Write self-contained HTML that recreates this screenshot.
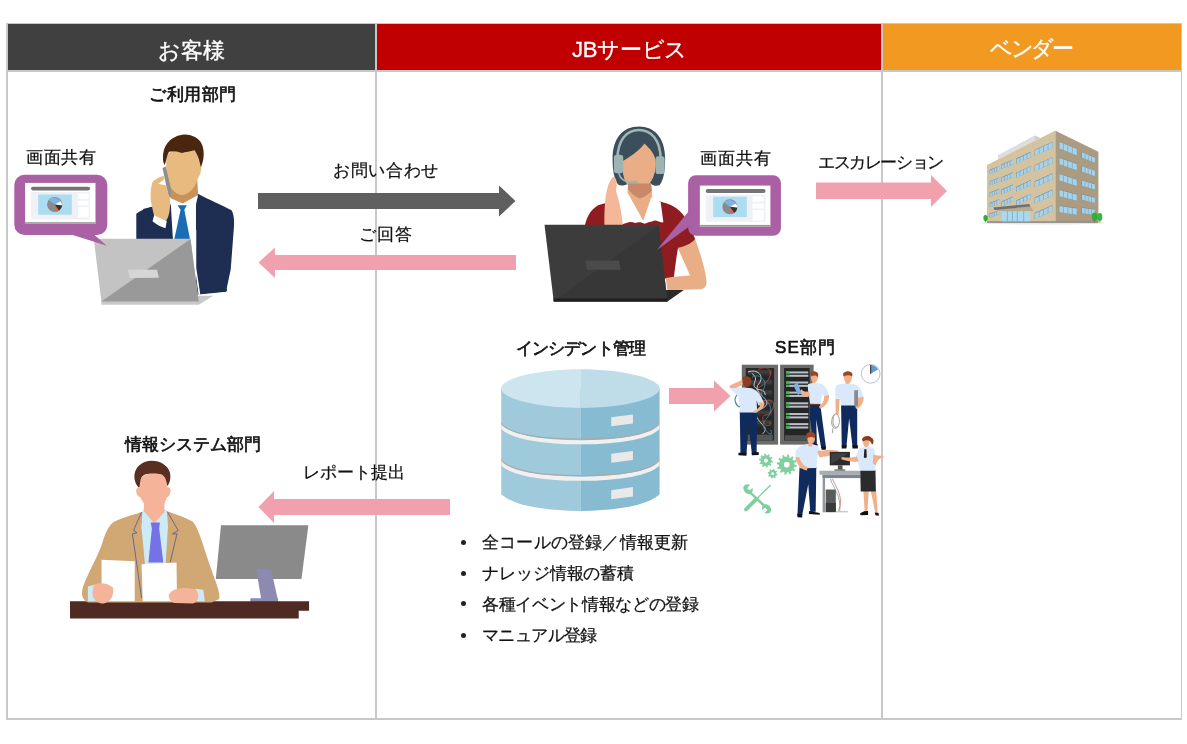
<!DOCTYPE html>
<html lang="ja">
<head>
<meta charset="utf-8">
<style>
html,body{margin:0;padding:0;background:#fff;}
body{width:1187px;height:744px;position:relative;overflow:hidden;font-family:"Liberation Sans",sans-serif;color:#111;-webkit-font-smoothing:antialiased;}
.a{position:absolute;white-space:nowrap;line-height:1;will-change:transform;}
.hd{will-change:transform;position:absolute;top:24px;height:46px;color:#fff;font-size:22px;line-height:54px;overflow:hidden;text-align:center;-webkit-text-stroke:0.35px #fff;}
.ln{position:absolute;background:#c8c8c8;}
.t17{font-size:17px;-webkit-text-stroke:0.25px #111;}
.b{font-weight:normal;-webkit-text-stroke:0.65px #111 !important;}
svg{position:absolute;left:0;top:0;}
</style>
</head>
<body>
<!-- headers -->
<div class="hd" style="left:7px;width:369px;background:#404040;">お客様</div>
<div class="hd" style="left:377px;width:505px;background:#c00000;letter-spacing:-0.3px;line-height:52px;">JBサービス</div>
<div class="hd" style="left:883px;width:298px;background:#f29922;letter-spacing:-2.5px;text-indent:-3px;line-height:50px;">ベンダー</div>
<!-- grid lines -->
<div class="ln" style="left:6px;top:23px;width:1176px;height:1px;"></div>
<div class="ln" style="left:6px;top:70px;width:1176px;height:2px;"></div>
<div class="ln" style="left:6px;top:718px;width:1176px;height:2px;"></div>
<div class="ln" style="left:6px;top:23px;width:2px;height:697px;"></div>
<div class="ln" style="left:1181px;top:23px;width:1px;height:697px;"></div>
<div class="ln" style="left:375px;top:23px;width:2px;height:697px;"></div>
<div class="ln" style="left:881px;top:23px;width:2px;height:697px;"></div>

<!-- texts -->
<div class="a t17 b" style="left:149px;top:86px;letter-spacing:0.6px;">ご利用部門</div>
<div class="a t17" style="left:26px;top:149px;letter-spacing:0.6px;">画面共有</div>
<div class="a t17" style="left:333px;top:162px;letter-spacing:0.7px;">お問い合わせ</div>
<div class="a t17" style="left:359px;top:226px;letter-spacing:1.2px;">ご回答</div>
<div class="a t17" style="left:700px;top:150px;letter-spacing:1.0px;">画面共有</div>
<div class="a t17" style="left:818px;top:154px;letter-spacing:-1.4px;">エスカレーション</div>
<div class="a t17 b" style="left:516px;top:340px;letter-spacing:-0.9px;">インシデント管理</div>
<div class="a t17 b" style="left:775px;top:339px;letter-spacing:1.2px;">SE部門</div>
<div class="a t17 b" style="left:125px;top:436px;">情報システム部門</div>
<div class="a t17" style="left:303px;top:464px;">レポート提出</div>
<div class="a" style="left:461px;top:540px;width:5px;height:5px;border-radius:2.5px;background:#222;"></div>
<div class="a" style="left:461px;top:571px;width:5px;height:5px;border-radius:2.5px;background:#222;"></div>
<div class="a" style="left:461px;top:601px;width:5px;height:5px;border-radius:2.5px;background:#222;"></div>
<div class="a" style="left:461px;top:633px;width:5px;height:5px;border-radius:2.5px;background:#222;"></div>
<div class="a t17" style="left:482px;top:534px;letter-spacing:0.2px;">全コールの登録／情報更新</div>
<div class="a t17" style="left:482px;top:565px;letter-spacing:-0.1px;">ナレッジ情報の蓄積</div>
<div class="a t17" style="left:482px;top:596px;letter-spacing:-0.35px;">各種イベント情報などの登録</div>
<div class="a t17" style="left:482px;top:627px;letter-spacing:-0.6px;">マニュアル登録</div>

<svg width="1187" height="744" viewBox="0 0 1187 744">
<!-- arrows -->
<polygon fill="#5f5f5f" points="258,193 499,193 499,185.5 515.5,201 499,216.5 499,209 258,209"/>
<polygon fill="#f1a0ad" points="516,255 275,255 275,247.5 258.5,262.5 275,278 275,270 516,270"/>
<polygon fill="#f1a0ad" points="816,182.5 931,182.5 931,175 947,191 931,207 931,199 816,199"/>
<polygon fill="#f1a0ad" points="669,388 714,388 714,380.5 730.5,396 714,411.5 714,404 669,404"/>
<polygon fill="#f1a0ad" points="450,499 274,499 274,491 258.5,507 274,523 274,515 450,515"/>
<!-- ILLUS -->
<!-- customer man -->
<g transform="translate(130,128) scale(0.157356)">
  <path fill="#1e2e52" d="M40,545 C70,515 160,500 255,462 L300,1060 L419,1060 L419,500 C420,460 425,435 432,418 C500,455 590,495 645,522 C668,560 662,620 655,700 L640,900 L610,1040 L420,1060 L40,1060 Z"/>
</g>
<g transform="translate(145,160) scale(0.094073)" id="cm2">
  <path fill="#ffffff" d="M255,430 L400,462 L565,372 L560,900 L295,900 Z"/>
  <path fill="#c9925b" d="M262,250 L555,205 L565,372 L400,462 L268,405 Z"/>
  <g transform="translate(106.3,-318.9)">
    <path fill="#e8ba7f" d="M130,270 C140,235 180,225 230,228 C260,232 275,240 290,245 C340,232 390,220 420,215 C445,250 460,290 470,340 L492,380 C498,420 482,480 452,520 C430,600 390,660 300,692 C230,692 170,630 140,560 C120,500 115,420 120,340 Z"/>
    <path fill="#4a2510" d="M85,300 C80,180 150,70 290,50 C380,40 440,80 470,110 C510,150 525,230 515,300 C505,350 495,380 488,395 L462,300 C452,270 442,250 420,215 C380,225 330,235 290,245 C240,225 190,225 150,230 C135,250 125,290 117,330 L102,372 C90,350 85,330 85,300 Z"/>
    <path fill="#8e8e8e" d="M80,404 L114,389 L170,625 L168,711 L69,704 L134,662 Z"/>
  </g>
  <path fill="#1e2e52" d="M-20,520 L95,492 L250,430 L275,480 L300,900 L-20,900 Z"/>
  <path fill="#1e2e52" d="M565,372 C600,400 650,425 700,445 L700,900 L542,900 L542,470 Z"/>
  <path fill="#1a6db3" d="M345,482 L445,482 L418,530 L480,850 L310,850 L378,530 Z"/>
  <path fill="#e8ba7f" d="M78,238 C100,208 150,180 192,170 C215,172 212,200 192,215 L140,255 C175,260 205,265 228,270 L246,350 C252,370 256,380 262,392 C272,440 268,500 258,560 C245,620 228,650 205,645 L100,600 C80,520 58,440 60,380 C60,320 68,270 78,238 Z"/>
  <path fill="#ffffff" d="M98,585 C135,610 190,635 232,645 L218,725 C170,710 120,685 80,650 Z"/>
</g>

<!-- jacket lower right -->
<g transform="translate(90,230) scale(0.126374)">
  <path fill="#1e2e52" d="M839,0 L1132,0 L1120,80 L1050,290 L1085,485 L870,505 L839,300 Z"/>
  <path fill="#ffffff" d="M790,0 L841,0 L841,300 L872,505 L860,520 L800,70 Z"/>
  <!-- laptop -->
  <path fill="#c8c8c8" d="M90,560 L860,520 L975,520 L860,592 L90,592 Z"/>
  <path fill="#c3c3c3" d="M30,70 L795,70 L860,565 L90,565 Z"/>
  <path fill="#999999" d="M795,72 L860,565 L90,565 Z"/>
  <path fill="#d6d6d6" d="M300,315 L530,315 L545,378 L315,380 Z"/>
</g>
<!-- customer bubble -->
<g transform="translate(10,170) scale(0.107527)">
  <rect x="40" y="45" width="865" height="560" rx="95" fill="#aa60a5"/>
  <path fill="#aa60a5" d="M540,590 L770,590 L900,705 Z"/>
  <rect x="140" y="120" width="655" height="380" fill="#ffffff"/>
  <rect x="140" y="485" width="655" height="15" fill="#9a9a9a"/>
  <rect x="195" y="205" width="550" height="255" rx="15" fill="#eef1f6"/>
  <rect x="195" y="155" width="550" height="35" rx="17" fill="#747474"/>
  <rect x="262" y="228" width="313" height="188" fill="#acdcef"/>
  <circle cx="415" cy="320" r="70" fill="#8a8a8a"/>
  <path fill="#7db4e6" d="M415,320 L360,278 A70,70 0 0 1 470,290 Z"/>
  <path fill="#ffffff" d="M415,320 L470,290 A70,70 0 0 1 485,330 Z"/>
  <path fill="#333333" d="M415,320 L485,330 A70,70 0 0 1 455,378 Z"/>
  <path fill="#e8604a" d="M415,320 L455,378 A70,70 0 0 1 430,388 Z"/>
  <rect x="632" y="218" width="100" height="52" fill="#ffffff"/>
  <rect x="632" y="285" width="100" height="45" fill="#ffffff"/>
  <rect x="632" y="345" width="100" height="95" fill="#ffffff"/>
</g>

<!-- woman operator -->
<g transform="translate(580,120) scale(0.16129)">
  <path fill="#3a4e5b" d="M365,40 C462,40 528,110 528,240 C528,320 516,380 492,405 C470,412 450,405 440,395 L300,395 C280,405 255,412 238,402 C212,372 202,312 202,240 C202,110 268,40 365,40 Z"/>
  <path fill="#e9ae85" d="M262,255 C300,235 362,195 400,145 C432,178 462,205 470,255 C472,305 462,345 440,382 C420,412 395,432 365,434 C330,432 300,412 285,388 C268,352 258,302 262,255 Z"/>
  <path fill="none" stroke="#a2b6b6" stroke-width="16" d="M232,245 C232,120 292,62 365,62 C440,62 500,120 500,245"/>
  <rect x="210" y="215" width="58" height="115" rx="18" fill="#9fb3b2"/>
  <rect x="468" y="225" width="57" height="110" rx="18" fill="#9fb3b2"/>
  <path fill="none" stroke="#9fb3b2" stroke-width="10" d="M240,320 C245,370 280,386 330,386"/>
  <ellipse cx="338" cy="388" rx="22" ry="13" fill="#9fb3b2"/>
</g>
<g transform="translate(540,190) scale(0.16129)">
  <!-- red shirt -->
  <path fill="#8f1c21" d="M270,260 C285,170 310,125 360,95 C400,80 450,72 490,68 L745,72 C800,85 860,110 900,170 C930,220 950,270 962,305 C940,335 900,355 855,362 C845,420 835,500 830,545 L600,560 L270,560 Z"/>
  <!-- arm -->
  <path fill="#e9ae85" d="M855,358 C900,350 940,330 962,305 C990,380 1020,470 1032,560 C1034,590 1025,612 1000,615 L790,622 L780,545 C830,535 880,535 930,530 C910,480 880,420 855,358 Z"/>
  <!-- neck -->
  <path fill="#e9ae85" d="M546,-40 L690,-40 L700,90 L640,200 L538,100 Z"/>
  <path fill="#c98868" d="M546,-40 L688,-40 L693,6 C658,36 633,51 613,51 C588,41 563,21 546,-4 Z"/>
  <!-- collar -->
  <path fill="#ffffff" d="M470,70 C490,50 520,30 545,20 L640,190 L690,45 C710,55 730,65 748,75 L765,200 C745,205 725,185 705,190 C690,200 670,195 650,210 C630,200 610,195 590,205 C560,190 535,205 505,215 Z"/>
  <!-- raised hand -->
  <path fill="#f4b898" d="M458,-80 C468,-80 476,-60 476,-34 C476,-15 470,0 472,10 C485,50 505,120 515,230 L400,230 C398,190 400,120 403,86 C404,50 412,10 420,-20 C430,-50 445,-80 458,-80 Z"/>
  <!-- laptop -->
  <path fill="#2a2a2a" d="M85,670 L790,620 L892,620 L790,692 L85,692 Z"/>
  <path fill="#3c3c3c" d="M28,215 L735,215 L790,690 L85,690 Z"/>
  <path fill="#373737" d="M735,218 L790,690 L85,690 Z"/>
  <path fill="#1e1e1e" d="M85,672 L790,672 L790,692 L85,692 Z"/>
  <path fill="#4b4b4b" d="M283,437 L490,437 L500,495 L290,495 Z"/>
</g>
<!-- operator bubble -->
<g transform="translate(650,165) scale(0.121007)">
  <rect x="315" y="85" width="767" height="500" rx="65" fill="#aa60a5"/>
  <path fill="#aa60a5" d="M330,370 L330,505 L55,705 Z"/>
  <rect x="412" y="170" width="583" height="340" fill="#ffffff"/>
  <rect x="412" y="495" width="583" height="15" fill="#9a9a9a"/>
  <rect x="460" y="245" width="495" height="225" rx="14" fill="#eef1f6"/>
  <rect x="460" y="198" width="495" height="34" rx="17" fill="#747474"/>
  <rect x="522" y="262" width="278" height="168" fill="#acdcef"/>
  <circle cx="660" cy="345" r="62" fill="#8a8a8a"/>
  <path fill="#7db4e6" d="M660,345 L612,308 A62,62 0 0 1 709,318 Z"/>
  <path fill="#ffffff" d="M660,345 L709,318 A62,62 0 0 1 722,354 Z"/>
  <path fill="#333333" d="M660,345 L722,354 A62,62 0 0 1 695,396 Z"/>
  <path fill="#e8604a" d="M660,345 L695,396 A62,62 0 0 1 673,405 Z"/>
  <rect x="848" y="258" width="92" height="45" fill="#ffffff"/>
  <rect x="848" y="318" width="92" height="42" fill="#ffffff"/>
  <rect x="848" y="372" width="92" height="88" fill="#ffffff"/>
</g>

<!-- building -->
<g transform="translate(975,125) scale(0.14104)">
<ellipse cx="480" cy="694" rx="440" ry="12" fill="#e6e6e6"/>
<path fill="#d3c3a1" d="M85,285 L570,40 L570,690 L85,690 Z"/>
<path fill="#ab9b80" d="M570,40 L875,190 L875,690 L570,690 Z"/>
<path fill="#cfcfcf" d="M165,215 L425,75 L465,92 L165,248 Z"/>
<path fill="#dedede" d="M165,215 L425,75 L425,112 L165,250 Z"/>
<path fill="#d3c3a1" d="M85,285 L570,40 L570,60 L85,305 Z"/>
<rect x="85" y="682" width="790" height="12" fill="#8f8f8f"/>
<path fill="#6f8595" d="M104,318 L171,292 L171,323 L104,349 Z"/><path fill="#a6d3ea" d="M107,321 L171,295 L171,323 L107,349 Z"/><path stroke="#7f9fb2" stroke-width="5" d="M121,314 L121,342"/><path stroke="#7f9fb2" stroke-width="5" d="M138,308 L138,336"/><path stroke="#7f9fb2" stroke-width="5" d="M154,302 L154,330"/>
<path fill="#6f8595" d="M104,398 L171,372 L171,403 L104,429 Z"/><path fill="#a6d3ea" d="M107,401 L171,375 L171,403 L107,429 Z"/><path stroke="#7f9fb2" stroke-width="5" d="M121,394 L121,422"/><path stroke="#7f9fb2" stroke-width="5" d="M138,388 L138,416"/><path stroke="#7f9fb2" stroke-width="5" d="M154,382 L154,410"/>
<path fill="#6f8595" d="M104,478 L171,452 L171,483 L104,509 Z"/><path fill="#a6d3ea" d="M107,481 L171,455 L171,483 L107,509 Z"/><path stroke="#7f9fb2" stroke-width="5" d="M121,474 L121,502"/><path stroke="#7f9fb2" stroke-width="5" d="M138,468 L138,496"/><path stroke="#7f9fb2" stroke-width="5" d="M154,462 L154,490"/>
<path fill="#6f8595" d="M104,553 L171,527 L171,558 L104,584 Z"/><path fill="#a6d3ea" d="M107,556 L171,530 L171,558 L107,584 Z"/><path stroke="#7f9fb2" stroke-width="5" d="M121,550 L121,578"/><path stroke="#7f9fb2" stroke-width="5" d="M138,543 L138,571"/><path stroke="#7f9fb2" stroke-width="5" d="M154,536 L154,564"/>
<path fill="#6f8595" d="M104,628 L171,602 L171,633 L104,659 Z"/><path fill="#a6d3ea" d="M107,631 L171,605 L171,633 L107,659 Z"/><path stroke="#7f9fb2" stroke-width="5" d="M121,624 L121,652"/><path stroke="#7f9fb2" stroke-width="5" d="M138,618 L138,646"/><path stroke="#7f9fb2" stroke-width="5" d="M154,612 L154,640"/>
<path fill="#6f8595" d="M188,280 L269,244 L269,278 L188,314 Z"/><path fill="#a6d3ea" d="M191,283 L269,247 L269,278 L191,314 Z"/><path stroke="#7f9fb2" stroke-width="5" d="M208,274 L208,305"/><path stroke="#7f9fb2" stroke-width="5" d="M228,265 L228,296"/><path stroke="#7f9fb2" stroke-width="5" d="M249,256 L249,287"/>
<path fill="#6f8595" d="M188,371 L269,335 L269,369 L188,405 Z"/><path fill="#a6d3ea" d="M191,374 L269,338 L269,369 L191,405 Z"/><path stroke="#7f9fb2" stroke-width="5" d="M208,365 L208,396"/><path stroke="#7f9fb2" stroke-width="5" d="M228,356 L228,387"/><path stroke="#7f9fb2" stroke-width="5" d="M249,347 L249,378"/>
<path fill="#6f8595" d="M188,458 L269,422 L269,456 L188,492 Z"/><path fill="#a6d3ea" d="M191,461 L269,425 L269,456 L191,492 Z"/><path stroke="#7f9fb2" stroke-width="5" d="M208,452 L208,483"/><path stroke="#7f9fb2" stroke-width="5" d="M228,443 L228,474"/><path stroke="#7f9fb2" stroke-width="5" d="M249,434 L249,465"/>
<path fill="#6f8595" d="M188,543 L269,507 L269,541 L188,577 Z"/><path fill="#a6d3ea" d="M191,546 L269,510 L269,541 L191,577 Z"/><path stroke="#7f9fb2" stroke-width="5" d="M208,537 L208,568"/><path stroke="#7f9fb2" stroke-width="5" d="M228,528 L228,559"/><path stroke="#7f9fb2" stroke-width="5" d="M249,519 L249,550"/>
<path fill="#6f8595" d="M292,238 L395,190 L395,226 L292,274 Z"/><path fill="#a6d3ea" d="M295,241 L395,193 L395,226 L295,274 Z"/><path stroke="#7f9fb2" stroke-width="5" d="M318,229 L318,262"/><path stroke="#7f9fb2" stroke-width="5" d="M344,217 L344,250"/><path stroke="#7f9fb2" stroke-width="5" d="M369,205 L369,238"/>
<path fill="#6f8595" d="M292,338 L395,290 L395,326 L292,374 Z"/><path fill="#a6d3ea" d="M295,341 L395,293 L395,326 L295,374 Z"/><path stroke="#7f9fb2" stroke-width="5" d="M318,329 L318,362"/><path stroke="#7f9fb2" stroke-width="5" d="M344,317 L344,350"/><path stroke="#7f9fb2" stroke-width="5" d="M369,305 L369,338"/>
<path fill="#6f8595" d="M292,438 L395,390 L395,426 L292,474 Z"/><path fill="#a6d3ea" d="M295,441 L395,393 L395,426 L295,474 Z"/><path stroke="#7f9fb2" stroke-width="5" d="M318,429 L318,462"/><path stroke="#7f9fb2" stroke-width="5" d="M344,417 L344,450"/><path stroke="#7f9fb2" stroke-width="5" d="M369,405 L369,438"/>
<path fill="#6f8595" d="M292,535 L395,487 L395,523 L292,571 Z"/><path fill="#a6d3ea" d="M295,538 L395,490 L395,523 L295,571 Z"/><path stroke="#7f9fb2" stroke-width="5" d="M318,526 L318,559"/><path stroke="#7f9fb2" stroke-width="5" d="M344,514 L344,547"/><path stroke="#7f9fb2" stroke-width="5" d="M369,502 L369,535"/>
<path fill="#6f8595" d="M423,175 L550,118 L550,161 L423,218 Z"/><path fill="#a6d3ea" d="M426,178 L550,121 L550,161 L426,218 Z"/><path stroke="#7f9fb2" stroke-width="5" d="M455,164 L455,204"/><path stroke="#7f9fb2" stroke-width="5" d="M486,150 L486,190"/><path stroke="#7f9fb2" stroke-width="5" d="M518,135 L518,175"/>
<path fill="#6f8595" d="M423,285 L550,228 L550,271 L423,328 Z"/><path fill="#a6d3ea" d="M426,288 L550,231 L550,271 L426,328 Z"/><path stroke="#7f9fb2" stroke-width="5" d="M455,274 L455,314"/><path stroke="#7f9fb2" stroke-width="5" d="M486,260 L486,300"/><path stroke="#7f9fb2" stroke-width="5" d="M518,245 L518,285"/>
<path fill="#6f8595" d="M423,399 L550,342 L550,385 L423,442 Z"/><path fill="#a6d3ea" d="M426,402 L550,345 L550,385 L426,442 Z"/><path stroke="#7f9fb2" stroke-width="5" d="M455,388 L455,428"/><path stroke="#7f9fb2" stroke-width="5" d="M486,374 L486,414"/><path stroke="#7f9fb2" stroke-width="5" d="M518,359 L518,399"/>
<path fill="#6f8595" d="M423,514 L550,457 L550,500 L423,557 Z"/><path fill="#a6d3ea" d="M426,517 L550,460 L550,500 L426,557 Z"/><path stroke="#7f9fb2" stroke-width="5" d="M455,503 L455,543"/><path stroke="#7f9fb2" stroke-width="5" d="M486,488 L486,528"/><path stroke="#7f9fb2" stroke-width="5" d="M518,474 L518,514"/>
<path fill="#6f8595" d="M423,624 L550,567 L550,610 L423,667 Z"/><path fill="#a6d3ea" d="M426,627 L550,570 L550,610 L426,667 Z"/><path stroke="#7f9fb2" stroke-width="5" d="M455,613 L455,653"/><path stroke="#7f9fb2" stroke-width="5" d="M486,598 L486,638"/><path stroke="#7f9fb2" stroke-width="5" d="M518,584 L518,624"/>
<path fill="#a9d9ee" d="M190,600 L392,585 L392,682 L190,682 Z"/>
<path stroke="#7f9fb2" stroke-width="5" d="M230,598 L230,682 M265,596 L265,682 M300,593 L300,682 M345,590 L345,682"/>
<path fill="#b8aa8b" d="M140,600 L390,575 L415,610 L200,612 Z"/>
<path fill="#707070" d="M130,585 L385,560 L392,578 L138,602 Z"/>
<path fill="#6f8595" d="M595,118 L722,168 L722,216 L595,166 Z"/><path fill="#a6d3ea" d="M598,121 L722,171 L722,216 L598,166 Z"/><path stroke="#7f9fb2" stroke-width="5" d="M627,134 L627,178"/><path stroke="#7f9fb2" stroke-width="5" d="M658,146 L658,191"/><path stroke="#7f9fb2" stroke-width="5" d="M690,158 L690,204"/>
<path fill="#6f8595" d="M595,231 L722,273 L722,321 L595,279 Z"/><path fill="#a6d3ea" d="M598,234 L722,276 L722,321 L598,279 Z"/><path stroke="#7f9fb2" stroke-width="5" d="M627,244 L627,290"/><path stroke="#7f9fb2" stroke-width="5" d="M658,255 L658,300"/><path stroke="#7f9fb2" stroke-width="5" d="M690,266 L690,310"/>
<path fill="#6f8595" d="M595,345 L722,385 L722,433 L595,393 Z"/><path fill="#a6d3ea" d="M598,348 L722,388 L722,433 L598,393 Z"/><path stroke="#7f9fb2" stroke-width="5" d="M627,358 L627,403"/><path stroke="#7f9fb2" stroke-width="5" d="M658,368 L658,413"/><path stroke="#7f9fb2" stroke-width="5" d="M690,378 L690,423"/>
<path fill="#6f8595" d="M595,458 L722,489 L722,537 L595,506 Z"/><path fill="#a6d3ea" d="M598,461 L722,492 L722,537 L598,506 Z"/><path stroke="#7f9fb2" stroke-width="5" d="M627,469 L627,514"/><path stroke="#7f9fb2" stroke-width="5" d="M658,476 L658,522"/><path stroke="#7f9fb2" stroke-width="5" d="M690,484 L690,529"/>
<path fill="#6f8595" d="M595,571 L722,589 L722,637 L595,619 Z"/><path fill="#a6d3ea" d="M598,574 L722,592 L722,637 L598,619 Z"/><path stroke="#7f9fb2" stroke-width="5" d="M627,578 L627,624"/><path stroke="#7f9fb2" stroke-width="5" d="M658,583 L658,628"/><path stroke="#7f9fb2" stroke-width="5" d="M690,588 L690,632"/>
<path fill="#6f8595" d="M756,191 L850,227 L850,268 L756,232 Z"/><path fill="#a6d3ea" d="M759,194 L850,230 L850,268 L759,232 Z"/><path stroke="#7f9fb2" stroke-width="5" d="M780,203 L780,241"/><path stroke="#7f9fb2" stroke-width="5" d="M803,212 L803,250"/><path stroke="#7f9fb2" stroke-width="5" d="M826,221 L826,259"/>
<path fill="#6f8595" d="M756,290 L850,322 L850,363 L756,331 Z"/><path fill="#a6d3ea" d="M759,293 L850,325 L850,363 L759,331 Z"/><path stroke="#7f9fb2" stroke-width="5" d="M780,301 L780,339"/><path stroke="#7f9fb2" stroke-width="5" d="M803,309 L803,347"/><path stroke="#7f9fb2" stroke-width="5" d="M826,317 L826,355"/>
<path fill="#6f8595" d="M756,390 L850,417 L850,458 L756,431 Z"/><path fill="#a6d3ea" d="M759,393 L850,420 L850,458 L759,431 Z"/><path stroke="#7f9fb2" stroke-width="5" d="M780,400 L780,438"/><path stroke="#7f9fb2" stroke-width="5" d="M803,406 L803,444"/><path stroke="#7f9fb2" stroke-width="5" d="M826,413 L826,451"/>
<path fill="#6f8595" d="M756,489 L850,512 L850,553 L756,530 Z"/><path fill="#a6d3ea" d="M759,492 L850,515 L850,553 L759,530 Z"/><path stroke="#7f9fb2" stroke-width="5" d="M780,498 L780,536"/><path stroke="#7f9fb2" stroke-width="5" d="M803,504 L803,542"/><path stroke="#7f9fb2" stroke-width="5" d="M826,509 L826,547"/>
<path fill="#6f8595" d="M756,584 L850,598 L850,639 L756,625 Z"/><path fill="#a6d3ea" d="M759,587 L850,601 L850,639 L759,625 Z"/><path stroke="#7f9fb2" stroke-width="5" d="M780,590 L780,628"/><path stroke="#7f9fb2" stroke-width="5" d="M803,594 L803,632"/><path stroke="#7f9fb2" stroke-width="5" d="M826,598 L826,636"/>
<ellipse cx="75" cy="660" rx="16" ry="22" fill="#2fae3a"/><rect x="73" y="672" width="5" height="18" fill="#8b6b3a"/>
<ellipse cx="848" cy="650" rx="20" ry="30" fill="#2fae3a"/><ellipse cx="885" cy="652" rx="18" ry="28" fill="#37b842"/><rect x="846" y="665" width="5" height="27" fill="#8b6b3a"/><rect x="883" y="665" width="5" height="27" fill="#8b6b3a"/>
</g>
<!-- database -->
<clipPath id="dbclip"><path d="M30,137 L790,137 L790,645 C730,700 590,722 410,725 C230,722 90,700 30,645 Z"/></clipPath>
<g transform="translate(495,360) scale(0.208333)">
  <path fill="#9ecadb" d="M30,137 L410,137 L410,725 C230,722 90,700 30,645 Z"/>
  <path fill="#86bbd1" d="M410,137 L790,137 L790,645 C730,700 590,722 410,725 Z"/>
  <path fill="#cce5ee" d="M410,45 C200,45 30,90 30,137 C30,185 200,230 410,230 Z"/>
  <path fill="#bfdde8" d="M410,45 C620,45 790,90 790,137 C790,185 620,230 410,230 Z"/>
  <path clip-path="url(#dbclip)" fill="none" stroke="#f0f0f0" stroke-width="20" d="M28,312 C60,370 230,395 410,395 C590,395 760,370 792,312"/>
  <path clip-path="url(#dbclip)" fill="none" stroke="#a9a9a9" stroke-width="6" d="M28,300 C60,358 230,380 410,380 C590,380 760,358 792,300"/>
  <path clip-path="url(#dbclip)" fill="none" stroke="#f0f0f0" stroke-width="20" d="M28,487 C60,545 230,570 410,570 C590,570 760,545 792,487"/>
  <path clip-path="url(#dbclip)" fill="none" stroke="#a9a9a9" stroke-width="6" d="M28,475 C60,533 230,555 410,555 C590,555 760,533 792,475"/>
  <path fill="#e9e9e9" d="M558,275 L662,262 L662,305 L558,318 Z"/>
  <path fill="#e9e9e9" d="M558,450 L662,437 L662,480 L558,493 Z"/>
  <path fill="#e9e9e9" d="M558,625 L662,610 L662,655 L558,668 Z"/>
</g>

<!-- SE dept -->
<g transform="translate(725,360) scale(0.134328)">
  <!-- rack 1 -->
  <rect x="125" y="35" width="270" height="595" fill="#6b6b6b"/>
  <rect x="155" y="60" width="210" height="540" fill="#262626"/>
  <rect x="170" y="75" width="180" height="28" fill="#3d3d3d"/><rect x="170" y="105" width="180" height="10" fill="#333"/><rect x="170" y="150" width="180" height="28" fill="#3d3d3d"/><rect x="170" y="180" width="180" height="10" fill="#333"/><rect x="170" y="225" width="180" height="28" fill="#3d3d3d"/><rect x="170" y="255" width="180" height="10" fill="#333"/><rect x="170" y="300" width="180" height="28" fill="#3d3d3d"/><rect x="170" y="330" width="180" height="10" fill="#333"/><rect x="170" y="375" width="180" height="28" fill="#3d3d3d"/><rect x="170" y="405" width="180" height="10" fill="#333"/><rect x="170" y="450" width="180" height="28" fill="#3d3d3d"/><rect x="170" y="480" width="180" height="10" fill="#333"/><rect x="175" y="83" width="14" height="8" fill="#4caf50"/><rect x="175" y="158" width="14" height="8" fill="#4caf50"/><rect x="175" y="233" width="14" height="8" fill="#4caf50"/><rect x="175" y="308" width="14" height="8" fill="#4caf50"/><rect x="175" y="383" width="14" height="8" fill="#4caf50"/><rect x="175" y="458" width="14" height="8" fill="#4caf50"/>
  <rect x="165" y="555" width="190" height="45" fill="#555555"/>
  <g fill="none" stroke-width="7">
    <path stroke="#b8482c" d="M250,70 C330,30 360,90 320,150 C280,210 200,200 230,280 C260,340 380,250 360,350 C340,440 250,380 290,470 C310,500 350,490 330,460"/>
    <path stroke="#d6d6d6" d="M170,90 C240,60 300,120 250,180 C200,240 330,280 310,330 C280,390 200,350 240,430 C270,490 330,500 280,550 M200,100 C260,140 200,170 220,200 C250,240 290,200 300,260"/>
    <path stroke="#3d82ab" d="M200,130 C260,90 330,160 280,230 C240,280 350,300 340,380 C330,440 250,460 300,520 C330,560 360,560 340,520"/>
  </g>
  <!-- rack 2 -->
  <rect x="410" y="35" width="250" height="595" fill="#6b6b6b"/>
  <rect x="440" y="60" width="190" height="540" fill="#252525"/>
  <rect x="445" y="560" width="180" height="40" fill="#505050"/>
  <g fill="#b9c2ca">
    <rect x="455" y="85" width="165" height="15"/><rect x="455" y="110" width="165" height="15"/>
    <rect x="455" y="160" width="165" height="15"/><rect x="455" y="185" width="165" height="15"/>
    <rect x="455" y="235" width="165" height="15"/><rect x="455" y="260" width="165" height="15"/>
    <rect x="455" y="315" width="165" height="15"/><rect x="455" y="340" width="165" height="15"/>
    <rect x="455" y="395" width="165" height="15"/><rect x="455" y="420" width="165" height="15"/>
    <rect x="455" y="470" width="165" height="15"/><rect x="455" y="495" width="165" height="15"/>
  </g>
  <g fill="#39b54a">
    <rect x="455" y="85" width="25" height="15"/><rect x="455" y="110" width="25" height="15"/>
    <rect x="455" y="160" width="25" height="15"/><rect x="455" y="185" width="25" height="15"/>
    <rect x="455" y="235" width="25" height="15"/><rect x="455" y="260" width="25" height="15"/>
    <rect x="455" y="315" width="25" height="15"/><rect x="455" y="340" width="25" height="15"/>
    <rect x="455" y="395" width="25" height="15"/><rect x="455" y="420" width="25" height="15"/>
    <rect x="455" y="470" width="25" height="15"/><rect x="455" y="495" width="25" height="15"/>
  </g>
  <!-- person 1 back view -->
  <path fill="#f0b08a" d="M30,195 C60,175 110,160 140,140 L155,165 C120,190 80,210 55,225 Z"/>
  <path fill="#0f2b5e" d="M110,380 L240,380 L235,700 L200,700 L175,470 L160,700 L115,700 Z"/>
  <path fill="#111" d="M100,690 L160,690 L160,712 L100,710 Z M198,690 L250,685 L252,708 L200,710 Z"/>
  <path fill="#d9e8fb" d="M45,210 C90,205 140,200 200,210 C240,225 270,260 290,320 L250,340 L235,300 L240,390 L110,390 L100,260 C80,250 55,240 45,210 Z"/>
  <path fill="#f0b08a" d="M250,315 L292,318 C300,340 280,370 225,395 L215,380 C240,365 258,350 262,338 Z"/>
  <path fill="#8a3e22" d="M130,130 C150,115 185,120 195,145 C200,170 190,195 170,200 C145,200 130,180 130,160 Z"/>
  <path fill="none" stroke="#3d82ab" stroke-width="8" d="M90,260 C60,290 80,340 110,350"/>
</g>
<g transform="translate(790,355) scale(0.134409)">
  <!-- person 2 -->
  <path fill="#0f2b5e" d="M150,365 L225,365 L268,690 L232,692 L195,480 L200,670 L175,672 L148,470 Z"/>
  <path fill="#111" d="M175,662 L205,662 L205,678 L175,678 Z M232,682 L268,682 L266,705 L235,705 Z"/>
  <path fill="#7c3c1e" d="M150,360 L225,360 L225,372 L150,372 Z"/>
  <path fill="#f0b08a" d="M158,140 C170,125 200,128 207,150 C210,175 203,198 188,205 L190,222 L165,222 L166,200 C155,185 152,160 158,140 Z"/>
  <path fill="#9a4524" d="M150,135 C165,115 200,118 210,140 L208,165 C195,150 175,150 160,160 Z"/>
  <path fill="#d9e8fb" d="M135,215 C170,205 200,205 240,215 C265,230 280,260 290,300 L255,310 L240,290 L225,362 L150,362 L140,300 C135,270 130,240 135,215 Z"/>
  <path fill="#f0b08a" d="M140,270 L150,300 C130,320 100,320 70,275 L85,255 C110,280 125,285 140,270 Z"/>
  <path fill="#f0b08a" d="M255,305 L290,298 C295,340 270,380 225,400 L215,385 C240,365 255,340 255,305 Z"/>
  <path fill="#7fb3e6" d="M25,225 L55,205 L85,280 L60,298 Z"/>
  <!-- person 3 -->
  <path fill="#0f2b5e" d="M380,372 L500,372 L500,680 L465,680 L440,470 L420,680 L385,680 Z"/>
  <path fill="#111" d="M385,672 L422,672 L420,696 L385,696 Z M463,672 L505,672 L505,696 L465,696 Z"/>
  <path fill="#f0b08a" d="M402,140 C410,120 452,120 460,142 C465,170 458,200 440,210 L448,230 L410,230 L414,205 C402,190 398,165 402,140 Z"/>
  <path fill="#9a4524" d="M395,140 C405,115 455,112 465,142 L462,160 C445,148 420,148 398,160 Z"/>
  <path fill="#d9e8fb" d="M345,225 C380,212 420,212 470,215 C510,222 535,250 545,310 L505,325 L495,300 L500,376 L378,376 L372,320 L340,330 C335,290 335,250 345,225 Z"/>
  <path fill="#f0b08a" d="M338,330 L370,325 L362,445 L340,445 Z"/>
  <path fill="#f0b08a" d="M507,318 L548,310 C550,350 530,390 492,402 L485,385 C500,370 507,345 507,318 Z"/>
  <rect x="478" y="262" width="28" height="118" fill="#8a8a8a"/>
  <path fill="none" stroke="#9a9a9a" stroke-width="7" d="M345,435 C300,450 300,540 335,545 C370,550 380,470 350,440 M330,440 C310,480 320,560 355,530 M320,545 L315,580"/>
  <!-- clock -->
  <circle cx="600" cy="140" r="70" fill="#ffffff" stroke="#aab0cc" stroke-width="6"/>
  <path fill="#5b9bd0" d="M600,140 L600,75 A65,65 0 0 1 655,108 Z"/>
  <path stroke="#333" stroke-width="8" d="M600,140 L600,75"/>
</g>
<g transform="translate(735,425) scale(0.134427)">
  <!-- gears -->
  <path fill="#7fcf9f" fill-rule="evenodd" d="M270.0,265.0 L281.9,268.3 L279.9,279.5 L267.6,278.5 L262.4,288.5 L270.1,298.1 L261.9,306.1 L252.5,298.1 L242.4,303.0 L242.9,315.4 L231.6,317.0 L228.7,305.0 L217.6,303.0 L210.9,313.3 L200.8,308.0 L205.5,296.6 L197.6,288.5 L186.1,292.9 L181.1,282.6 L191.6,276.2 L190.0,265.0 L178.1,261.7 L180.1,250.5 L192.4,251.5 L197.6,241.5 L189.9,231.9 L198.1,223.9 L207.5,231.9 L217.6,227.0 L217.1,214.6 L228.4,213.0 L231.3,225.0 L242.4,227.0 L249.1,216.7 L259.2,222.0 L254.5,233.4 L262.4,241.5 L273.9,237.1 L278.9,247.4 L268.4,253.8 Z M245,265 A15,15 0 1 0 215,265 A15,15 0 1 0 245,265 Z"/>
  <path fill="#7fcf9f" fill-rule="evenodd" d="M443.0,295.0 L459.9,298.9 L457.9,312.5 L440.6,311.5 L435.2,324.0 L447.9,335.8 L439.4,346.6 L424.9,337.1 L414.0,345.2 L419.0,361.8 L406.3,366.9 L398.5,351.4 L385.0,353.0 L381.1,369.9 L367.5,367.9 L368.5,350.6 L356.0,345.2 L344.2,357.9 L333.4,349.4 L342.9,334.9 L334.8,324.0 L318.2,329.0 L313.1,316.3 L328.6,308.5 L327.0,295.0 L310.1,291.1 L312.1,277.5 L329.4,278.5 L334.8,266.0 L322.1,254.2 L330.6,243.4 L345.1,252.9 L356.0,244.8 L351.0,228.2 L363.7,223.1 L371.5,238.6 L385.0,237.0 L388.9,220.1 L402.5,222.1 L401.5,239.4 L414.0,244.8 L425.8,232.1 L436.6,240.6 L427.1,255.1 L435.2,266.0 L451.8,261.0 L456.9,273.7 L441.4,281.5 Z M406,295 A21,21 0 1 0 364,295 A21,21 0 1 0 406,295 Z"/>
  <path fill="#7fcf9f" fill-rule="evenodd" d="M308.0,362.0 L316.9,364.9 L314.7,374.8 L305.4,373.7 L299.8,381.8 L304.0,390.1 L295.5,395.6 L289.7,388.3 L280.0,390.0 L277.1,398.9 L267.2,396.7 L268.3,387.4 L260.2,381.8 L251.9,386.0 L246.4,377.5 L253.7,371.7 L252.0,362.0 L243.1,359.1 L245.3,349.2 L254.6,350.3 L260.2,342.2 L256.0,333.9 L264.5,328.4 L270.3,335.7 L280.0,334.0 L282.9,325.1 L292.8,327.3 L291.7,336.6 L299.8,342.2 L308.1,338.0 L313.6,346.5 L306.3,352.3 Z M290,362 A10,10 0 1 0 270,362 A10,10 0 1 0 290,362 Z"/>
  <!-- tools -->
  <path stroke="#7fcf9f" stroke-width="18" d="M100,490 L230,612"/>
  <path fill="#7fcf9f" d="M62,462 C70,440 95,438 110,445 L92,470 L108,488 L130,468 C138,490 125,515 100,515 C80,512 60,490 62,462 Z"/>
  <path fill="#7fcf9f" d="M268,640 C262,660 235,662 220,655 L240,632 L224,612 L202,632 C195,610 210,588 235,590 C255,595 272,615 268,640 Z"/>
  <path stroke="#7fcf9f" stroke-width="10" stroke-linecap="round" d="M262,450 L150,560"/>
  <path stroke="#7fcf9f" stroke-width="28" stroke-linecap="round" d="M160,550 L82,628"/>
  <!-- person 4 -->
  <path fill="#0f2b5e" d="M480,310 L605,310 L600,645 L560,648 L545,440 L500,670 L465,668 Z"/>
  <path fill="#111" d="M462,660 L500,662 L500,688 L465,686 Z M550,640 L630,655 L630,668 L550,662 Z"/>
  <path fill="#d9e8fb" d="M450,195 C470,160 520,140 560,142 L610,150 C630,170 640,190 645,215 L615,225 L605,320 L480,322 L478,250 L450,245 Z"/>
  <path fill="#f0b08a" d="M612,195 C650,190 720,180 770,192 L768,212 C720,222 660,240 628,240 Z"/>
  <path fill="#f0b08a" d="M448,240 L478,240 C490,280 510,300 540,315 L535,338 C495,335 460,300 448,240 Z"/>
  <path fill="#f0b08a" d="M540,75 C555,60 590,65 595,90 C598,115 590,135 570,140 L575,160 L545,160 L548,135 C538,120 535,95 540,75 Z"/>
  <path fill="#9a4524" d="M530,70 C540,48 590,45 598,75 L590,100 C575,85 555,88 535,100 Z"/>
  <!-- desk -->
  <rect x="628" y="340" width="305" height="30" fill="#a6adb5"/>
  <rect x="650" y="370" width="285" height="25" fill="#7d858d"/>
  <rect x="652" y="395" width="18" height="255" fill="#9097a0"/>
  <rect x="675" y="480" width="75" height="168" fill="#5a5a5a"/>
  <rect x="675" y="580" width="75" height="68" fill="#3a3a3a"/>
  <path fill="none" stroke="#4a90c8" stroke-width="5" d="M710,400 C730,470 790,520 780,640"/>
  <path fill="none" stroke="#d05a3a" stroke-width="5" d="M725,400 C760,480 810,540 770,640"/>
  <rect x="750" y="640" width="90" height="10" fill="#c9c9c9"/>
  <!-- monitor -->
  <rect x="705" y="200" width="150" height="100" fill="#2b2b2b"/>
  <path fill="#404040" d="M715,210 L845,210 L715,290 Z"/>
  <rect x="765" y="300" width="35" height="32" fill="#555"/>
  <rect x="740" y="330" width="80" height="10" fill="#666"/>
  <!-- woman -->
  <path fill="#f0b08a" d="M955,490 L995,490 L985,650 L965,650 Z M1010,490 L1050,490 L1062,660 L1045,660 Z"/>
  <path fill="#111" d="M930,660 C950,640 975,640 990,640 L990,670 L935,672 Z M1040,650 L1068,655 L1070,675 L1045,672 Z"/>
  <path fill="#2b2b2b" d="M932,335 L1045,335 L1048,495 L935,495 Z"/>
  <path fill="#d9e8fb" d="M925,175 C950,165 1000,160 1030,170 C1045,200 1048,260 1045,340 L930,340 C920,290 905,250 900,230 Z"/>
  <path fill="#222" d="M962,180 L978,180 L980,240 L968,248 L958,240 Z"/>
  <path fill="#f0b08a" d="M905,232 L920,270 C880,280 840,270 790,255 L795,238 C840,245 880,245 905,232 Z"/>
  <path fill="#f0b08a" d="M1030,220 C1050,230 1080,225 1110,235 L1100,245 C1080,245 1065,250 1045,300 L1025,285 Z"/>
  <path fill="#f0b08a" d="M955,110 C965,95 995,95 1000,120 C1002,145 990,162 972,165 C955,160 950,135 955,110 Z"/>
  <path fill="#8e3a22" d="M945,105 C955,80 1000,75 1015,95 C1035,100 1035,140 1020,145 L1005,120 C990,110 965,112 950,125 Z"/>
</g>

<!-- info systems man -->
<g transform="translate(50,420) scale(0.345423)">
  <!-- monitor -->
  <path fill="#8a8a8a" d="M495,305 L748,305 L728,460 L480,460 Z"/>
  <path fill="#8c8ab0" d="M597,432 L640,432 L660,522 L612,522 Z"/>
  <path fill="#8c8ab0" d="M580,516 L660,516 L660,528 L580,528 Z"/>
  <!-- desk -->
  <path fill="#4e2a22" d="M58,525 L750,525 L750,552 L720,552 L720,575 L58,575 Z"/>
</g>
<g transform="translate(65,455) scale(0.228571)">
  <!-- jacket -->
  <path fill="#d1a774" d="M215,292 C260,270 300,262 338,248 L445,245 C490,262 530,275 560,292 C590,330 610,420 640,500 C660,560 680,600 675,630 L640,645 L100,645 C70,630 68,600 85,560 C110,500 150,430 165,380 C180,330 195,305 215,292 Z"/>
  <!-- shirt -->
  <path fill="#cdeaf8" d="M340,240 L445,240 L450,320 L440,480 L350,480 L335,320 Z"/>
  <path fill="#f5b49a" d="M345,195 L435,195 L435,262 L390,300 L345,262 Z"/>
  <path fill="#cdeaf8" d="M340,240 L390,300 L360,335 L335,320 Z M445,240 L390,300 L420,335 L450,320 Z"/>
  <!-- lapel lines -->
  <path fill="none" stroke="#5c6390" stroke-width="4" d="M335,250 L300,330 L315,340 L295,345 L335,625 M448,248 L495,330 L470,345 L490,345 L460,470"/>
  <!-- tie -->
  <path fill="#7472e6" d="M375,295 L415,295 L412,322 L430,470 L365,470 L380,322 Z"/>
  <!-- face -->
  <g transform="translate(262.5,0) scale(0.35282)">
    <path fill="#f5b49a" d="M195,290 C230,245 300,228 350,225 C420,228 480,245 505,290 L525,400 C548,395 570,410 565,450 C560,500 540,520 520,525 C505,570 490,600 480,620 L488,700 L252,700 L255,620 C225,590 200,550 190,525 C165,520 140,490 138,450 C136,415 160,400 185,405 Z"/>
    <path fill="#5a2e20" d="M165,400 C130,360 110,300 118,240 C130,140 220,72 330,70 C440,70 530,130 555,210 C572,280 560,340 525,385 L505,300 C490,265 470,245 440,238 C400,225 300,225 255,240 C220,255 200,280 195,300 L180,400 Z"/>
  </g>
  <!-- papers -->
  <path fill="#ffffff" d="M160,458 L305,465 L305,640 L160,640 Z"/>
  <path fill="#ffffff" d="M335,478 L488,470 L490,640 L340,640 Z"/>
  <!-- cuffs -->
  <path fill="#cdeaf8" d="M100,575 L135,565 L140,640 L100,640 Z M570,585 L605,590 L612,640 L575,640 Z"/>
  <!-- hands -->
  <path fill="#f5b49a" d="M125,570 C150,555 185,560 210,580 C215,610 205,640 170,650 C140,650 118,630 120,600 Z"/>
  <path fill="#f5b49a" d="M455,610 C470,580 530,575 575,590 C590,615 585,640 560,650 L480,648 C460,640 450,625 455,610 Z"/>
</g>

</svg>
</body>
</html>
